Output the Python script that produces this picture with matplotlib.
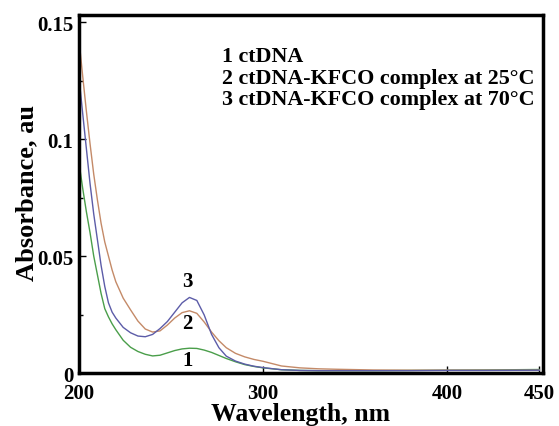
from matplotlib import pyplot as plt
from matplotlib.ticker import MultipleLocator

plt.rcParams['font.family'] = 'Liberation Serif'
plt.rcParams['font.weight'] = 'bold'
plt.rcParams['axes.labelweight'] = 'bold'

# wavelength grid, nm
wl = [200, 202, 204, 206, 208, 210, 212, 214, 216, 218, 220, 224, 228, 232, 236,
      240, 244, 248, 252, 256, 260, 264, 268, 272, 276, 280, 285, 290, 295, 300,
      310, 320, 330, 340, 360, 380, 400, 420, 450]

# 1 ctDNA
a1 = [0.090, 0.079, 0.069, 0.060, 0.050, 0.042, 0.034, 0.0275, 0.024, 0.021,
      0.0185, 0.014, 0.011, 0.0092, 0.0080, 0.0073, 0.0076, 0.0086, 0.0096, 0.0103,
      0.0106, 0.0105, 0.0098, 0.0088, 0.0075, 0.0062, 0.0048, 0.0036, 0.0028, 0.0022,
      0.0014, 0.0011, 0.0010, 0.0010, 0.0010, 0.0011, 0.0012, 0.0013, 0.0015]
# 2 ctDNA-KFCO at 25 C
a2 = [0.1425, 0.127, 0.112, 0.098, 0.085, 0.074, 0.064, 0.056, 0.050, 0.044,
      0.039, 0.032, 0.027, 0.0222, 0.0188, 0.0175, 0.018, 0.0205, 0.0235, 0.0258,
      0.0266, 0.0255, 0.0218, 0.0175, 0.0138, 0.0108, 0.0084, 0.0069, 0.0058, 0.0050,
      0.0030, 0.0022, 0.0018, 0.0016, 0.0013, 0.0012, 0.0012, 0.0012, 0.0012]
# 3 ctDNA-KFCO at 70 C
a3 = [0.1265, 0.111, 0.096, 0.081, 0.068, 0.057, 0.046, 0.037, 0.030, 0.026,
      0.0235, 0.0195, 0.0172, 0.0158, 0.0155, 0.0165, 0.019, 0.022, 0.026, 0.030,
      0.0323, 0.031, 0.0248, 0.0165, 0.0108, 0.0072, 0.0051, 0.0038, 0.0029, 0.0023,
      0.0014, 0.0011, 0.0010, 0.0010, 0.0010, 0.0010, 0.0011, 0.0011, 0.0012]

fig = plt.figure(figsize=(5.59, 4.27), dpi=100)
ax = fig.add_axes([0.1413, 0.1241, 0.8301, 0.8384])

ax.plot(wl, a1, color='#4a9e4a', lw=1.0)
ax.plot(wl, a2, color='#c48a68', lw=1.0)
ax.plot(wl, a3, color='#5c5ca8', lw=1.0)

# curve numbers
ax.text(258.7, 0.0393, '3', fontsize=15, ha='center', va='center', fontweight='bold')
ax.text(258.7, 0.0214, '2', fontsize=15, ha='center', va='center', fontweight='bold')
ax.text(258.7, 0.0056, '1', fontsize=15, ha='center', va='center', fontweight='bold')

# legend as plain text
leg = ['1 ctDNA', '2 ctDNA-KFCO complex at 25°C', '3 ctDNA-KFCO complex at 70°C']
leg_y = [0.885, 0.824, 0.765]
for t, yy in zip(leg, leg_y):
    ax.text(0.308, yy, t, transform=ax.transAxes, fontsize=15.8, va='center', fontweight='bold')

ax.set_xlim(200, 452)
ax.set_ylim(0, 0.153)
ax.set_xticks([200, 300, 400, 450])
ax.set_xticklabels(['200', '300', '400', '450'])
ax.set_yticks([0, 0.05, 0.1, 0.15])
ax.set_yticklabels(['0', '0.05', '0.1', '0.15'])
ax.yaxis.set_minor_locator(MultipleLocator(0.025))
ax.tick_params(labelsize=15, direction='in', length=5, width=1)
ax.tick_params(axis='x', pad=7)
ax.tick_params(axis='y', pad=4)
ax.tick_params(which='minor', direction='in', length=3, width=1)

for s in ax.spines.values():
    s.set_linewidth(2.5)

ax.set_xlabel('Wavelength, nm', fontsize=18.5, fontweight='bold')
ax.set_ylabel('Absorbance, au', fontsize=19, fontweight='bold')
ax.xaxis.set_label_coords(0.478, -0.082)
ax.yaxis.set_label_coords(-0.088, 0.507)

plt.savefig('out.png', dpi=100)
